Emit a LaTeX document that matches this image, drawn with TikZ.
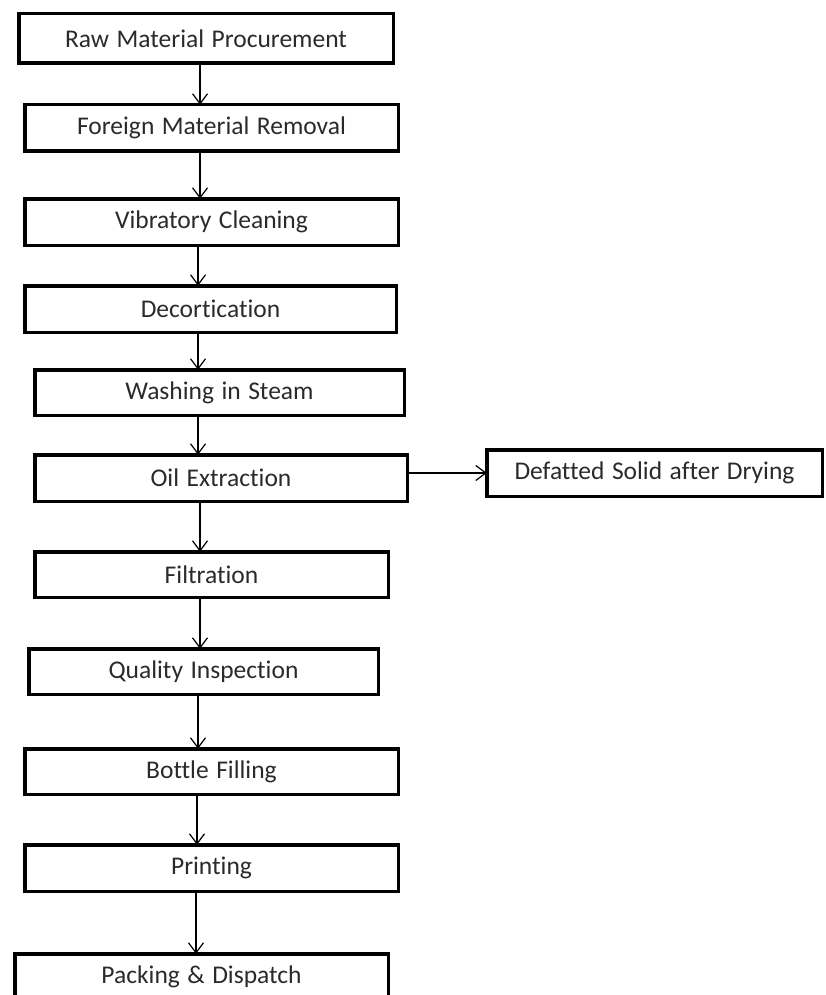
\documentclass[tikz,border=0pt]{standalone}
\usepackage{fontspec}
\setmainfont{Carlito}[Ligatures=NoCommon, WordSpace=1.3]
\usetikzlibrary{arrows.meta}
\definecolor{txt}{HTML}{2A2A2A}
\begin{document}
\begin{tikzpicture}[x=1pt,y=-1pt,
  box/.style={draw=black, line width=3.5pt, rectangle, inner sep=0pt, outer sep=0pt,
    text=txt, font=\fontsize{25.5}{29}\selectfont},
  arr/.style={line width=1.2pt, -{Straight Barb[length=10pt,width=15pt,line width=1.2pt]}}]
\useasboundingbox (0,0) rectangle (826,995);
\node[box, minimum width=374.5pt, minimum height=49.5pt] (b1) at (206,38.5) {Raw Material Procurement};
\node[box, minimum width=373.5pt, minimum height=46.5pt] (b2) at (211.5,128) {Foreign Material Removal};
\node[box, minimum width=373.5pt, minimum height=46.5pt] (b3) at (211.5,222) {Vibratory Cleaning};
\node[box, minimum width=371.5pt, minimum height=46.5pt] (b4) at (210.5,309) {Decortication};
\node[box, minimum width=369.5pt, minimum height=45.5pt] (b5) at (219.5,392.5) {Washing in Steam};
\node[box, minimum width=372.5pt, minimum height=46.5pt] (b6) at (221,478) {Oil Extraction};
\node[box, minimum width=335.5pt, minimum height=46.5pt] (d) at (654.5,473) {Defatted Solid after Drying};
\node[box, minimum width=353.5pt, minimum height=45.5pt] (b7) at (211.5,574.5) {Filtration};
\node[box, minimum width=349.5pt, minimum height=45.5pt] (b8) at (203.5,671.5) {Quality Inspection};
\node[box, minimum width=373.5pt, minimum height=45.5pt] (b9) at (211.5,771.5) {Bottle Filling};
\node[box, minimum width=373.5pt, minimum height=46.5pt] (b10) at (211.5,868) {Printing};
\node[box, minimum width=373.5pt, minimum height=46.5pt] (b11) at (201.5,977) {Packing \& Dispatch};
\coordinate (xa) at (200,0);
\coordinate (xb) at (198,0);
\coordinate (xc) at (197,0);
\coordinate (xd) at (196,0);
\draw[arr] (b1.south -| xa) -- (b2.north -| xa);
\draw[arr] (b2.south -| xa) -- (b3.north -| xa);
\draw[arr] (b3.south -| xb) -- (b4.north -| xb);
\draw[arr] (b4.south -| xb) -- (b5.north -| xb);
\draw[arr] (b5.south -| xb) -- (b6.north -| xb);
\draw[arr] (b6.south -| xa) -- (b7.north -| xa);
\draw[arr] (b7.south -| xa) -- (b8.north -| xa);
\draw[arr] (b8.south -| xb) -- (b9.north -| xb);
\draw[arr] (b9.south -| xc) -- (b10.north -| xc);
\draw[arr] (b10.south -| xd) -- (b11.north -| xd);
\draw[arr] (b6.east |- d.west) -- (d.west);
\end{tikzpicture}
\end{document}
